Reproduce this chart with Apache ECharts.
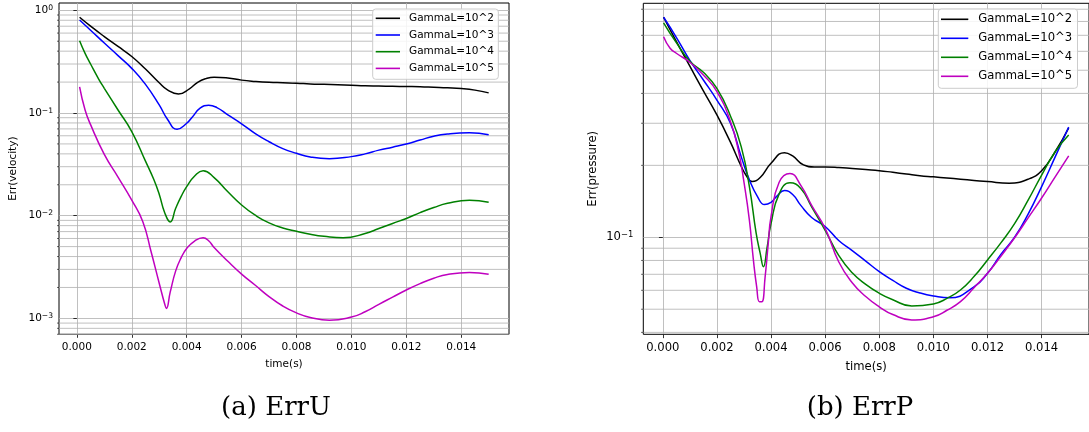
<!DOCTYPE html>
<html><head><meta charset="utf-8">
<script src="https://cdn.jsdelivr.net/npm/echarts@6/dist/echarts.min.js"></script>
<style>html,body{margin:0;padding:0;background:#fff}#c{width:1089px;height:432px}</style>
</head><body><div id="c"></div>
<script>
const seriesNames = ['GammaL=10^2', 'GammaL=10^3', 'GammaL=10^4', 'GammaL=10^5'];
const seriesColors = ['#000000', '#0000ff', '#008000', '#bf00bf'];
const captions = ['(a) ErrU', '(b) ErrP'];
const yNames = ['Err(velocity)', 'Err(pressure)'];
const xName = 'time(s)';
const xTickValues = [0, 0.002, 0.004, 0.006, 0.008, 0.010, 0.012, 0.014];
const yTickLeft = [0.001, 0.01, 0.1, 1];
const yTickRight = [0.1];

// Err(velocity) curves: [time, error]
const velK = [[0.0001,0.855],[0.0005,0.70],[0.001,0.555],[0.0015,0.445],[0.002,0.355],[0.0025,0.268],[0.003,0.197],[0.0033,0.168],[0.0037,0.153],[0.0041,0.172],[0.0044,0.199],[0.0047,0.216],[0.005,0.223],[0.0055,0.219],[0.006,0.209],[0.0065,0.203],[0.007,0.199],[0.0075,0.197],[0.008,0.195],[0.0085,0.192],[0.009,0.19],[0.0095,0.188],[0.010,0.186],[0.0105,0.184],[0.011,0.183],[0.0115,0.182],[0.012,0.181],[0.0125,0.180],[0.013,0.178],[0.0135,0.176],[0.014,0.173],[0.0145,0.167],[0.015,0.157]];
const velB = [[0.0001,0.804],[0.0005,0.64],[0.001,0.48],[0.0015,0.362],[0.002,0.272],[0.0025,0.19],[0.003,0.12],[0.0033,0.087],[0.00365,0.0694],[0.004,0.0794],[0.0042,0.091],[0.0045,0.112],[0.0048,0.119],[0.0051,0.113],[0.0055,0.096],[0.006,0.0785],[0.0065,0.063],[0.007,0.0525],[0.0075,0.045],[0.008,0.0405],[0.0085,0.0373],[0.0092,0.0359],[0.010,0.0376],[0.0105,0.040],[0.011,0.0435],[0.0115,0.0465],[0.012,0.0499],[0.0125,0.0545],[0.013,0.0595],[0.0135,0.0625],[0.0143,0.0641],[0.015,0.0615]];
const velG = [[0.0001,0.506],[0.0003,0.381],[0.0005,0.30],[0.0008,0.213],[0.001,0.174],[0.0015,0.107],[0.002,0.066],[0.0025,0.034],[0.0028,0.0226],[0.003,0.0162],[0.0032,0.0107],[0.0034,0.0087],[0.0036,0.0118],[0.0038,0.0154],[0.004,0.0192],[0.0043,0.0245],[0.0046,0.0274],[0.005,0.0235],[0.0055,0.0171],[0.006,0.0127],[0.0065,0.0101],[0.007,0.0085],[0.0075,0.0076],[0.008,0.00705],[0.0085,0.0066],[0.009,0.0063],[0.0097,0.0061],[0.0105,0.0067],[0.011,0.0075],[0.0115,0.0084],[0.012,0.0094],[0.0125,0.0107],[0.013,0.012],[0.0135,0.0132],[0.0143,0.0141],[0.015,0.0135]];
const velM = [[0.0001,0.18],[0.0003,0.107],[0.0005,0.077],[0.001,0.0395],[0.0015,0.0238],[0.002,0.0142],[0.0024,0.0088],[0.0027,0.0045],[0.003,0.0022],[0.0032,0.00138],[0.00326,0.00125],[0.0034,0.0018],[0.0036,0.0029],[0.0038,0.0039],[0.004,0.0048],[0.0043,0.0057],[0.0046,0.0061],[0.0048,0.0057],[0.005,0.0049],[0.0055,0.0036],[0.006,0.0027],[0.0065,0.0021],[0.007,0.00163],[0.0075,0.00132],[0.008,0.00113],[0.0085,0.00102],[0.0092,0.00096],[0.010,0.00103],[0.0105,0.00116],[0.011,0.00137],[0.0115,0.00161],[0.012,0.00189],[0.0125,0.00218],[0.013,0.00246],[0.0135,0.00268],[0.0143,0.0028],[0.015,0.00269]];

// Err(pressure) curves: [time, error]
const presK = [[0.00003,0.833],[0.0005,0.66],[0.001,0.52],[0.0015,0.41],[0.002,0.325],[0.0025,0.25],[0.0029,0.198],[0.0031,0.18],[0.0033,0.171],[0.0036,0.178],[0.004,0.204],[0.0045,0.226],[0.0048,0.219],[0.0052,0.201],[0.0056,0.197],[0.006,0.197],[0.0065,0.196],[0.007,0.194],[0.0075,0.192],[0.008,0.19],[0.0085,0.187],[0.009,0.184],[0.0095,0.181],[0.010,0.179],[0.0105,0.177],[0.011,0.175],[0.0115,0.173],[0.012,0.171],[0.0128,0.1685],[0.0135,0.175],[0.014,0.19],[0.0145,0.228],[0.015,0.287]];
const presB = [[0.00003,0.833],[0.0005,0.687],[0.001,0.55],[0.0015,0.455],[0.002,0.375],[0.0025,0.3],[0.0029,0.217],[0.0032,0.174],[0.0035,0.148],[0.00376,0.137],[0.004,0.14],[0.0042,0.148],[0.0045,0.157],[0.0048,0.151],[0.0051,0.136],[0.0055,0.121],[0.006,0.111],[0.0065,0.097],[0.007,0.088],[0.0075,0.0795],[0.008,0.0718],[0.0085,0.066],[0.009,0.0612],[0.0095,0.0585],[0.010,0.0568],[0.0106,0.0558],[0.0115,0.062],[0.012,0.0707],[0.0125,0.085],[0.013,0.1],[0.0135,0.125],[0.014,0.163],[0.0145,0.217],[0.015,0.289]];
const presG = [[0.00003,0.79],[0.0005,0.652],[0.001,0.545],[0.0015,0.49],[0.002,0.42],[0.0025,0.322],[0.0029,0.239],[0.0032,0.163],[0.00345,0.104],[0.0036,0.0857],[0.00372,0.0753],[0.00385,0.09],[0.004,0.114],[0.0043,0.152],[0.0047,0.169],[0.0051,0.16],[0.0055,0.134],[0.006,0.107],[0.0065,0.084],[0.007,0.071],[0.0075,0.0635],[0.008,0.0583],[0.0085,0.0548],[0.0092,0.0516],[0.010,0.0526],[0.0105,0.0555],[0.011,0.0602],[0.0115,0.0685],[0.012,0.0804],[0.0125,0.095],[0.013,0.114],[0.0135,0.143],[0.014,0.182],[0.0145,0.228],[0.015,0.268]];
const presM = [[0.00003,0.691],[0.00027,0.618],[0.0005,0.589],[0.001,0.54],[0.0015,0.478],[0.002,0.407],[0.0025,0.305],[0.0028,0.229],[0.003,0.17],[0.0032,0.118],[0.00335,0.08],[0.00347,0.062],[0.00357,0.0538],[0.00366,0.0538],[0.00378,0.068],[0.0039,0.095],[0.004,0.122],[0.0043,0.17],[0.0047,0.185],[0.0051,0.165],[0.0055,0.136],[0.006,0.109],[0.0065,0.079],[0.007,0.0645],[0.0075,0.0565],[0.008,0.0512],[0.0085,0.0475],[0.0092,0.0451],[0.010,0.0465],[0.0105,0.0495],[0.011,0.0538],[0.0115,0.0615],[0.012,0.0707],[0.0125,0.0835],[0.013,0.0995],[0.0135,0.1205],[0.014,0.146],[0.0145,0.179],[0.015,0.219]];

// minor log ticks (2..9 x 10^k)
const leftMinor = [];
for (let k = -4; k <= 0; k++) for (let m = 2; m <= 9; m++) leftMinor.push(m * Math.pow(10, k));
const rightMinor = [];
for (let k = -2; k <= -1; k++) for (let m = 2; m <= 9; m++) rightMinor.push(m * Math.pow(10, k));

const FONT = 'DejaVu Sans';
const cfg = [
  {left: 59, top: 3, width: 450, height: 331.3, xmin: -0.00065, xmax: 0.01574, ymin: 6.998e-4, ymax: 1.178, fs: 10.5, sup: 7.6, tick: 3.5, minorTick: 2, xMargin: 7, yMargin: 6, nameGapX: 24, nameGapY: 40, yTicks: yTickLeft, minor: leftMinor},
  {left: 643.3, top: 3.3, width: 446, height: 331, xmin: -0.00072, xmax: 0.01575, ymin: 0.03927, ymax: 0.953, fs: 11.6, sup: 8.4, tick: 3.85, minorTick: 2.2, xMargin: 8, yMargin: 10, nameGapX: 27, nameGapY: 44, yTicks: yTickRight, minor: rightMinor}
];

function isMult(v, step) { return Math.abs(v / step - Math.round(v / step)) < 1e-6; }

const grids = [], xAxes = [], yAxes = [], series = [];
cfg.forEach((c, i) => {
  grids.push({left: c.left, top: c.top, width: c.width, height: c.height, show: true, borderColor: '#000', borderWidth: 1, backgroundColor: 'transparent', containLabel: false});
  xAxes.push({
    type: 'value', gridIndex: i, min: c.xmin, max: c.xmax, splitNumber: 8,
    name: xName, nameLocation: 'middle', nameGap: c.nameGapX,
    nameTextStyle: {fontFamily: FONT, fontSize: c.fs, color: '#000'},
    axisLine: {show: false},
    axisTick: {show: true, length: c.tick, customValues: xTickValues, lineStyle: {color: '#000', width: 0.8}},
    splitLine: {show: true, lineStyle: {color: '#b0b0b0', width: 0.8}},
    axisLabel: {margin: c.xMargin, fontFamily: FONT, fontSize: c.fs, color: '#000', customValues: xTickValues,
      formatter: v => isMult(v, 0.002) ? (Math.abs(v) < 1e-12 ? 0 : v).toFixed(3) : ''}
  });
  yAxes.push({
    type: 'log', logBase: 10, gridIndex: i, min: c.ymin, max: c.ymax,
    name: yNames[i], nameLocation: 'middle', nameGap: c.nameGapY,
    nameTextStyle: {fontFamily: FONT, fontSize: c.fs, color: '#000'},
    axisLine: {show: false},
    axisTick: {show: true, length: c.tick, customValues: c.yTicks, lineStyle: {color: '#000', width: 0.8}},
    splitLine: {show: true, lineStyle: {color: '#b0b0b0', width: 0.8}},
    axisLabel: {margin: c.yMargin, color: '#000', customValues: c.yTicks,
      formatter: v => {
        const e = Math.log10(v);
        if (Math.abs(e - Math.round(e)) > 1e-6) return '';
        const n = Math.round(e);
        return '{b|10}{s|' + (n < 0 ? '\u2212' + (-n) : n) + '}';
      },
      rich: {
        b: {fontFamily: FONT, fontSize: c.fs, color: '#000', lineHeight: c.fs + 2},
        s: {fontFamily: FONT, fontSize: c.sup, color: '#000', verticalAlign: 'top', lineHeight: c.sup}
      }
    }
  });
  series.push({
    type: 'custom', xAxisIndex: i, yAxisIndex: i, silent: true, clip: false, z: 1, animation: false,
    data: c.minor.filter(v => v > c.ymin && v < c.ymax).map(v => [0, v]),
    renderItem: (params, api) => {
      const cs = params.coordSys;
      const y = api.coord([0, api.value(1)])[1];
      return {type: 'group', children: [
        {type: 'line', shape: {x1: cs.x, y1: y, x2: cs.x + cs.width, y2: y}, style: {stroke: '#b0b0b0', lineWidth: 0.8}},
        {type: 'line', shape: {x1: cs.x - c.minorTick, y1: y, x2: cs.x, y2: y}, style: {stroke: '#000', lineWidth: 0.6}}
      ]};
    }
  });
});

const velData = [velK, velB, velG, velM];
const presData = [presK, presB, presG, presM];
[velData, presData].forEach((set, gi) => {
  set.forEach((d, si) => {
    series.push({
      type: 'line', name: seriesNames[si], xAxisIndex: gi, yAxisIndex: gi, data: d,
      symbol: 'none', showSymbol: false, smooth: 0.5, z: 3, animation: false,
      color: seriesColors[si], lineStyle: {color: seriesColors[si], width: 1.5}
    });
  });
});

const legendBase = {
  orient: 'vertical', selectedMode: false, icon: 'rect',
  data: seriesNames.map(n => ({name: n, icon: 'rect'})),
  backgroundColor: 'rgba(255,255,255,0.85)', borderColor: '#cccccc', borderWidth: 1, borderRadius: 3
};

const option = {
  animation: false,
  backgroundColor: '#ffffff',
  grid: grids, xAxis: xAxes, yAxis: yAxes, series: series,
  legend: [
    Object.assign({}, legendBase, {left: 372.7, top: 9, itemWidth: 24.3, itemHeight: 1.6, itemGap: 4.7, padding: [3.3, 4.4, 4.9, 3],
      textStyle: {fontFamily: FONT, fontSize: 10.5, lineHeight: 12, color: '#000', padding: [0, 0, 0, 4]}}),
    Object.assign({}, legendBase, {left: 938.3, top: 9, itemWidth: 27.3, itemHeight: 1.6, itemGap: 6, padding: [3.8, 5.4, 5.5, 2.7],
      textStyle: {fontFamily: FONT, fontSize: 11.6, lineHeight: 13, color: '#000', padding: [0, 0, 0, 5]}})
  ],
  graphic: [
    {type: 'text', x: 276, y: 408, style: {text: captions[0], font: '26px "DejaVu Serif"', fill: '#000', align: 'center', verticalAlign: 'middle'}},
    {type: 'text', x: 860, y: 408, style: {text: captions[1], font: '26px "DejaVu Serif"', fill: '#000', align: 'center', verticalAlign: 'middle'}}
  ]
};

const chart = echarts.init(document.getElementById('c'));
chart.setOption(option);
</script>
</body></html>
